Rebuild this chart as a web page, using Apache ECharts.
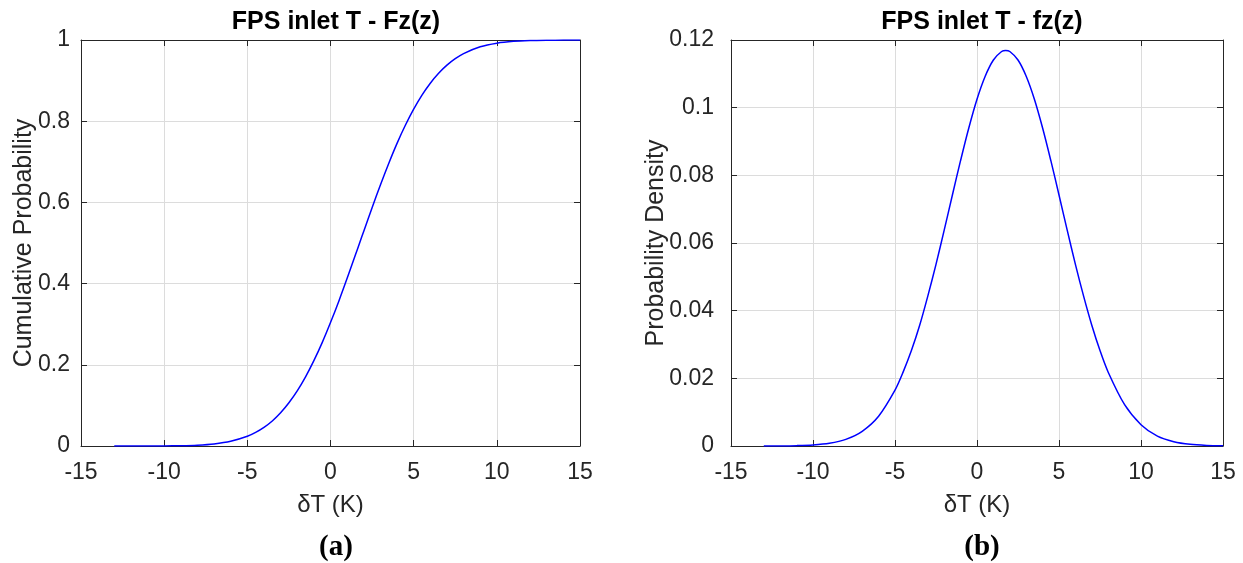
<!DOCTYPE html>
<html>
<head>
<meta charset="utf-8">
<script src="https://cdn.jsdelivr.net/npm/echarts@6/dist/echarts.min.js"></script>
<style>
html,body{margin:0;padding:0;background:#fff;}
#c{width:1243px;height:563px;}
</style>
</head>
<body>
<div id="c"></div>
<script>
// x values (δT, K)
const xVals = [-13,-12,-11,-10,-9,-8,-7,-6,-5,-4.5,-4,-3.5,-3,-2.5,-2,-1.5,-1,-0.5,0,0.5,1,1.5,1.75,2,2.5,3,3.5,4,4.5,5,5.5,6,6.5,7,7.5,8,9,10,11,12,13,14,15];
// Cumulative probability Fz(z)
const cdfVals = [0.00001,0.00003,0.00009,0.00029,0.0008,0.0021,0.0051,0.0115,0.0239,0.0335,0.0459,0.0617,0.0818,0.1064,0.1357,0.1703,0.2101,0.2546,0.304,0.3568,0.413,0.4708,0.5,0.5292,0.587,0.643,0.696,0.7454,0.790,0.8297,0.8643,0.8936,0.918,0.938,0.9539,0.9666,0.9833,0.9922,0.9967,0.9987,0.9995,0.9998,0.99995];
// Probability density fz(z)
const pdfVals = [0.00001,0.00003,0.00011,0.00031,0.00081,0.00196,0.00435,0.0088,0.0165,0.0219,0.0282,0.0356,0.0443,0.0537,0.0638,0.0742,0.0844,0.0940,0.1025,0.1093,0.1141,0.1166,0.1169,0.1166,0.1141,0.1093,0.1025,0.0940,0.0844,0.0742,0.0638,0.0537,0.0443,0.0357,0.0282,0.0218,0.0122,0.0063,0.0029,0.00128,0.0005,0.00018,0.00006];
const xTicks = [-15,-10,-5,0,5,10,15];
const cdfTicks = [0,0.2,0.4,0.6,0.8,1];
const pdfTicks = [0,0.02,0.04,0.06,0.08,0.1,0.12];
const titles = ['FPS inlet T - Fz(z)','FPS inlet T - fz(z)'];
const xName = 'δT (K)';
const yNames = ['Cumulative Probability','Probability Density'];
const panelLabels = ['(a)','(b)'];

const FONT = 'Liberation Sans, Arial, Helvetica, sans-serif';
const SERIF = 'Liberation Serif, Times New Roman, serif';
const TXT = '#262626';
const GRIDC = '#dcdcdc';

const grids = [
  {left:81, top:40, width:499, height:406},
  {left:731, top:40, width:492, height:406}
];

function xAxisMain(i){
  return {
    type:'value', gridIndex:i, min:xTicks[0], max:xTicks[xTicks.length-1], interval:5,
    position:'bottom',
    name:xName, nameLocation:'middle', nameGap:47, nameMoveOverlap:false,
    nameTextStyle:{fontFamily:FONT, fontSize:24, color:TXT},
    axisLine:{show:true, onZero:false, lineStyle:{color:TXT, width:1}},
    axisTick:{show:true, inside:true, length:6, lineStyle:{color:TXT}},
    axisLabel:{fontFamily:FONT, fontSize:23, color:TXT, margin:15},
    splitLine:{show:true, lineStyle:{color:GRIDC, width:1}}
  };
}
function xAxisTop(i){
  return {
    type:'value', gridIndex:i, min:xTicks[0], max:xTicks[xTicks.length-1], interval:5,
    position:'top',
    axisLine:{show:true, onZero:false, lineStyle:{color:TXT, width:1}},
    axisTick:{show:true, inside:true, length:6, lineStyle:{color:TXT}},
    axisLabel:{show:false}, splitLine:{show:false}
  };
}
function yAxisMain(i, ticks, gap, lmargin){
  const iv = ticks[1]-ticks[0];
  return {
    type:'value', gridIndex:i, min:ticks[0], max:ticks[ticks.length-1], interval:iv,
    position:'left',
    name:yNames[i], nameLocation:'middle', nameGap:gap, nameMoveOverlap:false,
    nameTextStyle:{fontFamily:FONT, fontSize:25, color:TXT},
    axisLine:{show:true, onZero:false, lineStyle:{color:TXT, width:1}},
    axisTick:{show:true, inside:true, length:6, lineStyle:{color:TXT}},
    axisLabel:{fontFamily:FONT, fontSize:23, color:TXT, margin:lmargin,
      formatter: v => { const r = Math.round(v*100)/100; return String(r); }},
    splitLine:{show:true, lineStyle:{color:GRIDC, width:1}}
  };
}
function yAxisRight(i, ticks){
  const iv = ticks[1]-ticks[0];
  return {
    type:'value', gridIndex:i, min:ticks[0], max:ticks[ticks.length-1], interval:iv,
    position:'right',
    axisLine:{show:true, onZero:false, lineStyle:{color:TXT, width:1}},
    axisTick:{show:true, inside:true, length:6, lineStyle:{color:TXT}},
    axisLabel:{show:false}, splitLine:{show:false}
  };
}

const chart = echarts.init(document.getElementById('c'), null, {renderer:'canvas'});
chart.setOption({
  animation:false,
  backgroundColor:'#fff',
  title:[
    {text:titles[0], left:331, top:5, textAlign:'center', textStyle:{fontFamily:FONT, fontSize:25, fontWeight:'bold', color:'#000'}},
    {text:titles[1], left:977, top:5, textAlign:'center', textStyle:{fontFamily:FONT, fontSize:25, fontWeight:'bold', color:'#000'}},
    {text:panelLabels[0], left:331, top:528, textAlign:'center', textStyle:{fontFamily:SERIF, fontSize:29, fontWeight:'bold', color:'#000'}},
    {text:panelLabels[1], left:977, top:528, textAlign:'center', textStyle:{fontFamily:SERIF, fontSize:29, fontWeight:'bold', color:'#000'}}
  ],
  grid:grids,
  xAxis:[xAxisMain(0), xAxisMain(1), xAxisTop(0), xAxisTop(1)],
  yAxis:[yAxisMain(0, cdfTicks, 44, 11), yAxisMain(1, pdfTicks, 62, 17), yAxisRight(0, cdfTicks), yAxisRight(1, pdfTicks)],
  series:[
    {type:'line', xAxisIndex:0, yAxisIndex:0, data:xVals.map((x,k)=>[x,cdfVals[k]]),
     showSymbol:false, smooth:0.3, lineStyle:{color:'#0000ff', width:1.5}},
    {type:'line', xAxisIndex:1, yAxisIndex:1, data:xVals.map((x,k)=>[x,pdfVals[k]]),
     showSymbol:false, smooth:0.3, lineStyle:{color:'#0000ff', width:1.5}}
  ]
});
</script>
</body>
</html>
